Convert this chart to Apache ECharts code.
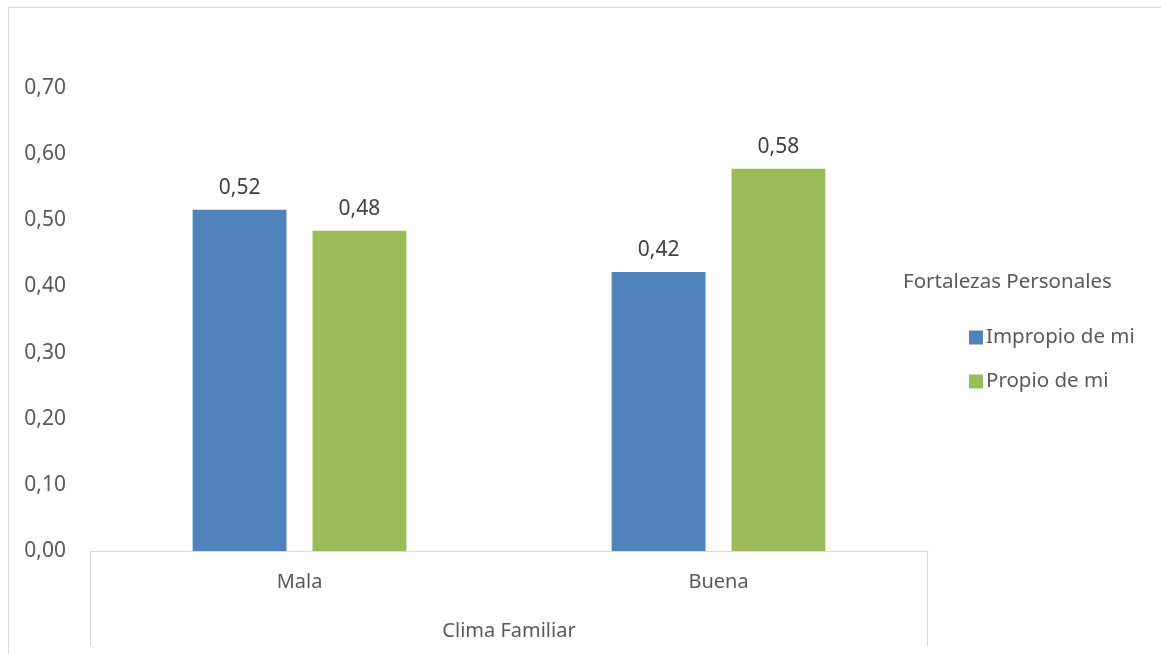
<!DOCTYPE html>
<html>
<head>
<meta charset="utf-8">
<script src="https://cdn.jsdelivr.net/npm/echarts@6/dist/echarts.min.js"></script>
<style>html,body{margin:0;padding:0;background:#fff}#c{width:1161px;height:654px}</style>
</head>
<body>
<div id="c"></div>
<script>
var categories = ['Mala', 'Buena'];
var seriesNames = ['Impropio de mi', 'Propio de mi'];
var impropio = [0.516, 0.422];
var propio = [0.484, 0.578];
var yTicks = [0, 0.1, 0.2, 0.3, 0.4, 0.5, 0.6, 0.7];
var xAxisTitle = 'Clima Familiar';
var legendTitle = 'Fortalezas Personales';

var FONT = 'Noto Sans';
var GL = 90, GR = 233, GT = 88, GB = 103;
function fmt(v){ return v.toFixed(2).replace('.', ','); }

var chart = echarts.init(document.getElementById('c'));
chart.setOption({
  animation: false,
  textStyle: { fontFamily: FONT },
  grid: { left: GL, right: GR, top: GT, bottom: GB, containLabel: false },
  title: {
    text: legendTitle, left: 898, top: 267,
    textStyle: { fontFamily: FONT, fontSize: 20.5, fontWeight: 'normal', color: '#595959' }
  },
  legend: {
    orient: 'vertical', left: 964, top: 322, itemGap: 23,
    itemWidth: 14, itemHeight: 14, icon: 'rect',
    textStyle: { fontFamily: FONT, fontSize: 20.5, color: '#595959', padding: [0,0,0,-2] },
    data: seriesNames
  },
  xAxis: {
    type: 'category', data: categories,
    name: xAxisTitle, nameLocation: 'middle', nameGap: 70,
    nameTextStyle: { fontFamily: FONT, fontSize: 20, color: '#595959' },
    axisLine: { lineStyle: { color: '#d9d9d9', width: 1 } },
    axisTick: { show: false },
    axisLabel: { margin: 21, fontFamily: FONT, fontSize: 20, color: '#595959' }
  },
  yAxis: {
    type: 'value', min: 0, max: 0.7, interval: 0.1,
    axisLine: { show: false }, axisTick: { show: false },
    splitLine: { show: false },
    axisLabel: { margin: 24, fontFamily: FONT, fontSize: 21, color: '#595959',
      formatter: function(v){ return fmt(v); } }
  },
  series: [
    { name: seriesNames[0], type: 'bar', data: impropio, barWidth: '22.4%', barGap: '27.7%',
      itemStyle: { color: '#4f81bd' },
      label: { show: true, position: 'top', distance: 11, fontFamily: FONT, fontSize: 21, color: '#404040',
        formatter: function(p){ return fmt(p.value); } } },
    { name: seriesNames[1], type: 'bar', data: propio, barWidth: '22.4%', barGap: '27.7%',
      itemStyle: { color: '#9bbb59' },
      label: { show: true, position: 'top', distance: 11, fontFamily: FONT, fontSize: 21, color: '#404040',
        formatter: function(p){ return fmt(p.value); } } }
  ],
  graphic: [
    { type: 'rect', silent: true, shape: { x: 8.5, y: 7.5, width: 1300, height: 800 },
      style: { fill: 'none', stroke: '#d9d9d9', lineWidth: 1 } },
    { type: 'line', silent: true, shape: { x1: GL + 0.5, y1: 654 - GB, x2: GL + 0.5, y2: 646 },
      style: { stroke: '#d9d9d9', lineWidth: 1 } },
    { type: 'line', silent: true, shape: { x1: 1161 - GR - 0.5, y1: 654 - GB, x2: 1161 - GR - 0.5, y2: 646 },
      style: { stroke: '#d9d9d9', lineWidth: 1 } }
  ]
});
</script>
</body>
</html>
